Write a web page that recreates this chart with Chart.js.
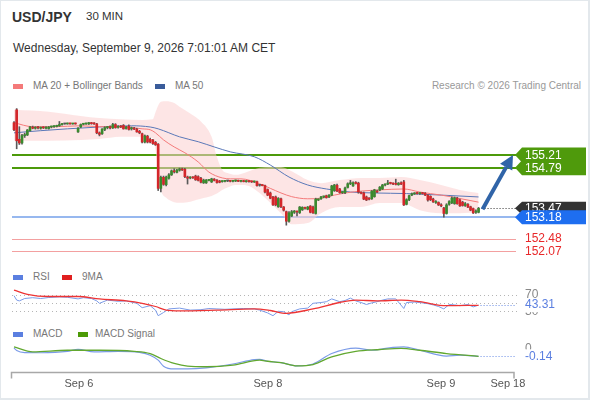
<!DOCTYPE html>
<html>
<head>
<meta charset="utf-8">
<script src="https://cdn.jsdelivr.net/npm/chart.js@4.4.1/dist/chart.umd.min.js"></script>
<style>
  body { margin: 0; background: #fff; }
  #wrap { position: relative; width: 590px; height: 400px; overflow: hidden; background: #fff;
          font-family: "Liberation Sans", Arial, sans-serif; }
  #wrap canvas { position: absolute; left: 0; }
  .t { position: absolute; white-space: nowrap; line-height: 1; }
  .sw { position: absolute; width: 10px; height: 5px; }
  .frame { position: absolute; left: 0; top: 0; right: 0; bottom: 0; box-sizing: border-box;
           border: 1px solid #e3e8ec; border-right-width: 2px; border-bottom-width: 2px; pointer-events: none; }
</style>
</head>
<body>
<div id="wrap">
  <div class="t" style="left:12px;top:10px;font-size:14px;font-weight:bold;color:#333">USD/JPY</div>
  <div class="t" style="left:86px;top:11px;font-size:11.5px;color:#333">30 MIN</div>
  <div class="t" style="left:13px;top:42px;font-size:12px;color:#333">Wednesday, September 9, 2026 7:01:01 AM CET</div>

  <div class="sw" style="left:13px;top:84px;background:#f47a7a"></div>
  <div class="t" style="left:33px;top:81px;font-size:10px;color:#777">MA 20 + Bollinger Bands</div>
  <div class="sw" style="left:155px;top:84px;background:#3a5c9a"></div>
  <div class="t" style="left:175px;top:81px;font-size:10px;color:#777">MA 50</div>
  <div class="t" style="right:9px;top:81px;font-size:10px;color:#999">Research © 2026 Trading Central</div>

  <div class="sw" style="left:13px;top:275px;background:#5b7fe0"></div>
  <div class="t" style="left:33px;top:272px;font-size:10px;color:#777">RSI</div>
  <div class="sw" style="left:62px;top:275px;background:#e02020"></div>
  <div class="t" style="left:82px;top:272px;font-size:10px;color:#777">9MA</div>

  <div class="sw" style="left:13px;top:332px;background:#5b7fe0"></div>
  <div class="t" style="left:33px;top:329px;font-size:10px;color:#777">MACD</div>
  <div class="sw" style="left:78px;top:332px;background:#4c9a06"></div>
  <div class="t" style="left:95px;top:329px;font-size:10px;color:#777">MACD Signal</div>

  <canvas id="cPrice" width="590" height="170" style="top:95px"></canvas>
  <canvas id="cRsi" width="590" height="46" style="top:280px"></canvas>
  <canvas id="cMacd" width="590" height="62" style="top:336px"></canvas>
  <div class="frame"></div>
</div>
<script>
// 30 min candles, USD/JPY
const opens = [
  156.26,156.68,155.72,155.60,155.84,155.86,156.00,156.10,156.08,156.10,
  156.08,156.10,156.08,156.07,156.12,156.13,156.14,156.16,156.20,156.22,
  156.22,156.23,156.22,156.23,155.96,156.12,156.21,156.22,156.22,156.25,
  156.24,156.22,155.93,155.90,156.04,156.10,156.13,156.09,156.20,156.11,
  156.14,156.17,156.07,156.15,156.06,156.08,156.05,155.98,155.90,155.63,
  155.82,155.72,155.70,155.62,155.56,154.12,154.48,154.24,154.45,154.56,
  154.68,154.64,154.71,154.75,154.74,154.49,154.46,154.48,154.52,154.50,
  154.45,154.30,154.30,154.38,154.33,154.42,154.39,154.36,154.34,154.35,
  154.36,154.36,154.35,154.36,154.37,154.35,154.36,154.34,154.35,154.34,
  154.33,154.34,154.22,154.22,154.21,154.08,153.97,153.84,153.84,153.52,
  153.78,153.51,153.36,153.05,153.22,153.34,153.36,153.33,153.42,153.48,
  153.44,153.54,153.51,153.30,153.74,153.78,153.84,153.88,153.84,153.90,
  154.05,154.22,154.10,153.98,153.98,154.15,154.27,154.20,154.30,154.29,
  153.98,153.97,153.84,153.78,153.78,153.85,154.02,154.06,154.10,154.23,
  154.26,154.29,154.27,154.26,154.24,154.30,154.33,153.60,153.75,153.90,
  153.94,153.96,153.95,153.96,153.96,153.90,153.86,153.77,153.66,153.66,
  153.56,153.48,153.30,153.60,153.65,153.62,153.80,153.74,153.67,153.56,
  153.60,153.52,153.46,153.34,153.34
];
const highs = [
  156.30,156.72,156.13,155.88,155.92,156.04,156.14,156.15,156.13,156.14,
  156.12,156.13,156.13,156.14,156.15,156.17,156.18,156.30,156.24,156.24,
  156.25,156.25,156.24,156.25,156.10,156.22,156.24,156.25,156.27,156.27,
  156.26,156.24,155.96,156.07,156.13,156.14,156.16,156.24,156.23,156.17,
  156.17,156.20,156.14,156.19,156.12,156.11,156.08,156.01,155.92,155.86,
  155.85,155.76,155.72,155.65,155.58,154.52,154.52,154.52,154.60,154.72,
  154.76,154.74,154.78,154.78,154.77,154.52,154.50,154.50,154.55,154.53,
  154.48,154.42,154.41,154.41,154.45,154.44,154.41,154.38,154.37,154.38,
  154.38,154.38,154.37,154.39,154.39,154.37,154.38,154.37,154.37,154.36,
  154.36,154.36,154.25,154.24,154.23,154.10,154.00,153.86,153.87,153.82,
  153.80,153.53,153.38,153.36,153.40,153.40,153.38,153.53,153.52,153.51,
  153.53,153.56,153.54,153.80,153.78,153.86,153.87,153.90,153.92,154.22,
  154.25,154.26,154.12,154.02,154.16,154.30,154.38,154.33,154.34,154.32,
  154.01,154.00,153.87,153.82,154.05,154.09,154.06,154.18,154.25,154.27,
  154.38,154.32,154.30,154.42,154.31,154.33,154.38,153.78,153.90,153.97,
  153.98,153.99,153.98,153.99,153.98,153.92,153.88,153.80,153.72,153.68,
  153.62,153.50,153.62,153.72,153.84,153.84,153.83,153.77,153.70,153.66,
  153.62,153.54,153.48,153.42,153.50
];
const lows = [
  156.00,155.41,155.55,155.56,155.78,155.84,155.98,156.06,156.05,156.06,
  156.05,156.07,156.06,156.05,156.09,156.11,156.12,156.14,156.18,156.21,
  156.21,156.21,156.21,156.21,155.94,156.10,156.19,156.20,156.20,156.21,
  156.20,155.90,155.83,155.88,156.00,156.06,156.06,156.07,156.08,156.08,
  156.10,156.05,156.05,156.02,156.02,156.03,155.95,155.90,155.60,155.60,
  155.60,155.60,155.55,155.52,154.05,154.00,154.22,154.20,154.42,154.54,
  154.62,154.62,154.68,154.70,154.47,154.26,154.43,154.44,154.38,154.36,
  154.30,154.28,154.28,154.36,154.31,154.36,154.29,154.30,154.32,154.33,
  154.34,154.33,154.33,154.34,154.34,154.33,154.33,154.32,154.32,154.31,
  154.31,154.19,154.19,154.20,153.97,153.88,153.78,153.56,153.55,153.50,
  153.49,153.38,152.92,153.02,153.20,153.30,153.22,153.30,153.40,153.44,
  153.42,153.32,153.30,153.28,153.72,153.76,153.81,153.80,153.82,153.88,
  154.02,154.01,153.96,153.95,153.95,154.13,154.24,154.18,154.26,153.96,
  153.94,153.75,153.72,153.74,153.76,153.83,153.98,154.04,154.08,154.20,
  154.24,154.26,154.24,154.23,154.22,154.24,153.56,153.58,153.72,153.88,
  153.92,153.93,153.92,153.93,153.88,153.70,153.72,153.66,153.63,153.56,
  153.52,153.18,153.28,153.57,153.62,153.60,153.60,153.53,153.54,153.53,
  153.49,153.39,153.30,153.30,153.32
];
const closes = [
  156.03,155.67,155.60,155.84,155.86,156.02,156.12,156.08,156.11,156.09,
  156.10,156.09,156.11,156.12,156.13,156.15,156.16,156.20,156.22,156.22,
  156.23,156.22,156.23,156.22,156.08,156.20,156.22,156.23,156.26,156.23,
  156.22,155.93,155.88,156.05,156.10,156.12,156.09,156.20,156.10,156.14,
  156.12,156.06,156.12,156.04,156.08,156.05,155.96,155.93,155.63,155.83,
  155.63,155.63,155.58,155.54,154.12,154.48,154.25,154.49,154.56,154.69,
  154.66,154.72,154.75,154.72,154.50,154.45,154.47,154.46,154.40,154.38,
  154.32,154.39,154.39,154.39,154.43,154.38,154.31,154.32,154.35,154.36,
  154.36,154.35,154.36,154.37,154.35,154.36,154.34,154.35,154.34,154.33,
  154.34,154.21,154.22,154.21,154.00,153.90,153.80,153.58,153.58,153.79,
  153.52,153.41,153.05,153.32,153.36,153.38,153.35,153.51,153.50,153.47,
  153.51,153.34,153.32,153.77,153.76,153.84,153.85,153.82,153.90,154.20,
  154.23,154.03,153.98,154.00,154.13,154.27,154.29,154.30,154.28,154.00,
  153.96,153.77,153.74,153.77,154.03,154.07,154.00,154.16,154.23,154.24,
  154.29,154.28,154.26,154.25,154.29,154.26,153.58,153.75,153.88,153.94,
  153.96,153.95,153.96,153.95,153.90,153.74,153.75,153.68,153.69,153.58,
  153.55,153.30,153.58,153.69,153.80,153.81,153.62,153.55,153.56,153.62,
  153.51,153.41,153.32,153.38,153.47
];

// moving averages and bands (candle index -> value)
const ma20Idx = [0,7,15,25,32,40,48,51,53,56,60,64,69,73,78,81,85,92,96,100,104,110,115,120,125,130,137,146,152,160,164,174];
const ma20Vals = [156.26,156.13,156.13,156.16,156.13,156.13,156.06,156.03,155.93,155.70,155.47,155.28,154.98,154.65,154.46,154.43,154.43,154.27,154.12,153.97,153.85,153.78,153.80,153.90,153.98,154.03,154.07,154.10,154.00,153.90,153.84,153.67];
const ma50Idx = [0,10,20,32,44,51,54,62,69,75,81,90,96,103,110,117,126,135,147,160,174];
const ma50Vals = [155.93,156.00,156.06,156.12,156.16,156.12,156.06,155.80,155.64,155.47,155.31,155.15,154.88,154.49,154.23,154.10,154.00,153.97,153.95,153.90,153.84];
const bandIdx = [0,13,25,32,40,48,52,53,54,55,57,60,62,65,67,70,74,76,78,80,83,85,88,92,96,100,104,110,115,122,130,137,145,152,160,167,174];
const bandUpper = [156.68,156.62,156.48,156.41,156.37,156.35,156.37,156.60,156.82,156.94,156.96,156.90,156.78,156.62,156.50,156.30,155.80,155.14,154.72,154.62,154.56,154.59,154.68,154.79,154.82,154.82,154.68,154.39,154.29,154.39,154.46,154.46,154.49,154.39,154.23,154.07,153.97];
const bandLower = [155.67,155.67,155.70,155.73,155.80,155.80,155.75,155.37,154.56,154.07,153.81,153.67,153.65,153.67,153.71,153.78,153.87,153.95,154.07,154.15,154.23,154.23,154.20,153.97,153.65,153.31,152.95,152.99,153.31,153.51,153.51,153.64,153.64,153.41,153.31,153.31,153.35];

// target / support levels
const levelValues = [155.21, 154.79, 153.18, 152.48, 152.07];

// RSI + 9MA
const rsiIdx = [0,1,2,4,7,10,13,17,20,24,26,29,31,32,35,39,42,46,48,51,53,54,56,58,62,66,70,73,76,79,82,86,90,92,95,97,99,101,103,104,107,110,112,115,117,119,122,124,126,128,130,132,134,136,138,140,143,146,147,150,152,155,157,159,161,163,165,167,170,172,174];
const rsiVals = [67,56,54,60,62,60,62.5,64,63,59,62,60,54,48,56,53,54,48,37,42,31,17,25,34,36,31,32,35,34,33,34,35,34,31,24,17,28,27,19,27,34,36,48,50,52,59,52,55,61,54,50,45,49,52,56,59,59,35,50,51,50,47,44,40,34,45,44,42,45,39,43.31];
const rsiMaIdx = [0,5,13,24,32,42,48,53,57,62,76,90,96,102,112,122,128,136,145,152,162,174];
const rsiMaVals = [81,70.5,65,65,59,54,48,40,31,29,31,34,30,23,34,50,56,54,56,52,42,43];
const rsiLevels = [70, 50, 30];

// MACD + signal
const macdIdx = [0,1,4,10,20,24,30,39,47,51,54,56,60,65,72,82,90,92,95,100,106,112,119,128,134,142,146,152,162,167,174];
const macdVals = [0.01,-0.036,-0.073,-0.075,-0.05,-0.013,-0.06,-0.05,-0.07,-0.12,-0.21,-0.32,-0.37,-0.37,-0.35,-0.28,-0.2,-0.195,-0.23,-0.255,-0.315,-0.28,-0.09,0.01,-0.03,0.024,0.03,-0.03,-0.135,-0.12,-0.14];
const signalIdx = [0,7,20,32,45,51,55,60,65,72,82,92,95,100,106,112,119,128,137,145,152,162,174];
const signalVals = [0.03,-0.06,-0.03,-0.03,-0.05,-0.09,-0.18,-0.27,-0.32,-0.33,-0.30,-0.21,-0.23,-0.255,-0.315,-0.29,-0.15,-0.05,-0.016,0.005,-0.03,-0.09,-0.14];

// x axis labels (candle index where they sit)
const tickLabels = ['Sep 6', 'Sep 8', 'Sep 9', 'Sep 18'];
const tickAt = [24.3, 95.1, 159.9, 185];

const xMin = -0.75, xMax = 186.9;
const FONT = '"Liberation Sans", Arial, sans-serif';

function pts(xs, ys) {
    return xs.map((x, k) => ({ x: x, y: ys[k] }));
}

function drawTag(ctx, x, yc, w, h, color) {
    ctx.fillStyle = color;
    ctx.beginPath();
    ctx.moveTo(x, yc);
    ctx.lineTo(x + 7, yc - h / 2);
    ctx.lineTo(x + w, yc - h / 2);
    ctx.lineTo(x + w, yc + h / 2);
    ctx.lineTo(x + 7, yc + h / 2);
    ctx.closePath();
    ctx.fill();
}

function labelWithBg(ctx, text, x, y, color) {
    const w = ctx.measureText(text).width;
    ctx.fillStyle = '#fff';
    ctx.fillRect(x - 2, y - 7, w + 4, 14);
    ctx.fillStyle = color;
    ctx.fillText(text, x, y);
}

// lines, tags and arrow of the price panel
const priceLevels = {
    id: 'priceLevels',
    beforeDatasetsDraw(chart) {
        const ctx = chart.ctx, ys = chart.scales.y, a = chart.chartArea;
        const styles = [['#4c9a0a', 2], ['#4c9a0a', 2], ['#74a1ea', 1.5], ['#f3a0a0', 1], ['#f3a0a0', 1]];
        ctx.save();
        levelValues.forEach((v, k) => {
            let y = Math.round(ys.getPixelForValue(v));
            if (styles[k][1] === 1) y += 0.5;
            ctx.strokeStyle = styles[k][0];
            ctx.lineWidth = styles[k][1];
            ctx.beginPath();
            ctx.moveTo(a.left, y);
            ctx.lineTo(516, y);
            ctx.stroke();
        });
        ctx.restore();
    },
    afterDraw(chart) {
        const ctx = chart.ctx, xs = chart.scales.x, ys = chart.scales.y;
        const last = closes[closes.length - 1];
        const xl = xs.getPixelForValue(closes.length - 1);
        const yl = ys.getPixelForValue(last);
        ctx.save();
        // dotted last price
        ctx.strokeStyle = '#333';
        ctx.lineWidth = 1;
        ctx.setLineDash([1, 2]);
        ctx.beginPath();
        ctx.moveTo(xl + 3, Math.round(yl) + 0.5);
        ctx.lineTo(516, Math.round(yl) + 0.5);
        ctx.stroke();
        ctx.setLineDash([]);

        // arrow towards first target
        const x0 = xl + 4, y0 = yl + 1;
        const x1 = 513, y1 = ys.getPixelForValue(levelValues[0]);
        const ang = Math.atan2(y1 - y0, x1 - x0);
        const head = 14, half = 7;
        const bx = x1 - head * Math.cos(ang), by = y1 - head * Math.sin(ang);
        ctx.strokeStyle = '#3064a8';
        ctx.lineWidth = 4;
        ctx.beginPath();
        ctx.moveTo(x0, y0);
        ctx.lineTo(bx, by);
        ctx.stroke();
        ctx.fillStyle = '#3064a8';
        ctx.beginPath();
        ctx.moveTo(x1, y1);
        ctx.lineTo(bx + half * Math.sin(ang), by - half * Math.cos(ang));
        ctx.lineTo(bx - half * Math.sin(ang), by + half * Math.cos(ang));
        ctx.closePath();
        ctx.fill();

        // tags
        ctx.font = '12px ' + FONT;
        ctx.textBaseline = 'middle';
        const yT1 = ys.getPixelForValue(levelValues[0]);
        const yT2 = ys.getPixelForValue(levelValues[1]);
        drawTag(ctx, 515, yT1, 71, 15, '#4f9a0c');
        drawTag(ctx, 515, yT2, 71, 15, '#4f9a0c');
        ctx.fillStyle = '#fff';
        ctx.fillText(levelValues[0].toFixed(2), 525, yT1 + 0.5);
        ctx.fillText(levelValues[1].toFixed(2), 525, yT2 + 0.5);

        drawTag(ctx, 515, yl, 71, 13, '#333');
        ctx.fillStyle = '#fff';
        ctx.fillText(last.toFixed(2), 525, yl + 0.5);

        const yS = ys.getPixelForValue(levelValues[2]);
        drawTag(ctx, 515, yS, 71, 14, '#1e6ef0');
        ctx.fillStyle = '#fff';
        ctx.fillText(levelValues[2].toFixed(2), 525, yS + 0.5);

        ctx.fillStyle = '#e8282a';
        ctx.fillText(levelValues[3].toFixed(2), 525, ys.getPixelForValue(levelValues[3]) + 0.5);
        ctx.fillText(levelValues[4].toFixed(2), 525, ys.getPixelForValue(levelValues[4]) + 0.5);
        ctx.restore();
    }
};

const rsiExtras = {
    id: 'rsiExtras',
    beforeDatasetsDraw(chart) {
        const ctx = chart.ctx, ys = chart.scales.y, a = chart.chartArea;
        ctx.save();
        ctx.strokeStyle = '#b5b5b5';
        ctx.lineWidth = 1;
        ctx.setLineDash([1, 3]);
        rsiLevels.forEach(v => {
            const y = Math.round(ys.getPixelForValue(v)) + 0.5;
            ctx.beginPath();
            ctx.moveTo(a.left, y);
            ctx.lineTo(517, y);
            ctx.stroke();
        });
        ctx.restore();
    },
    afterDraw(chart) {
        const ctx = chart.ctx, xs = chart.scales.x, ys = chart.scales.y;
        const n = rsiIdx.length - 1;
        const xl = xs.getPixelForValue(rsiIdx[n]);
        const yl = ys.getPixelForValue(rsiVals[n]);
        ctx.save();
        ctx.strokeStyle = '#6a8de6';
        ctx.lineWidth = 1;
        ctx.setLineDash([1, 2]);
        ctx.beginPath();
        ctx.moveTo(xl + 2, Math.round(yl) + 0.5);
        ctx.lineTo(516, Math.round(yl) + 0.5);
        ctx.stroke();
        ctx.setLineDash([]);
        ctx.font = '12px ' + FONT;
        ctx.textBaseline = 'middle';
        ctx.fillStyle = '#888';
        ctx.fillText(String(rsiLevels[0]), 525, ys.getPixelForValue(rsiLevels[0]));
        ctx.fillText(String(rsiLevels[2]), 525, ys.getPixelForValue(rsiLevels[2]) + 1);
        labelWithBg(ctx, rsiVals[n].toFixed(2), 525, yl, '#5b7fe0');
        ctx.restore();
    }
};

const macdExtras = {
    id: 'macdExtras',
    afterDraw(chart) {
        const ctx = chart.ctx, xs = chart.scales.x, ys = chart.scales.y, a = chart.chartArea;
        const n = macdIdx.length - 1;
        const xl = xs.getPixelForValue(macdIdx[n]);
        const yl = ys.getPixelForValue(macdVals[n]);
        ctx.save();
        ctx.strokeStyle = '#6a8de6';
        ctx.lineWidth = 1;
        ctx.setLineDash([1, 2]);
        ctx.beginPath();
        ctx.moveTo(xl + 2, Math.round(yl) + 0.5);
        ctx.lineTo(516, Math.round(yl) + 0.5);
        ctx.stroke();
        ctx.setLineDash([]);
        ctx.font = '12px ' + FONT;
        ctx.textBaseline = 'middle';
        ctx.fillStyle = '#888';
        ctx.fillText('0', 525, ys.getPixelForValue(0));
        labelWithBg(ctx, macdVals[n].toFixed(2), 525, yl, '#5b7fe0');

        // time axis
        const yA = Math.round(a.bottom) + 1.5;
        const xL = xs.getPixelForValue(xMin) - 0.5, xR = xs.getPixelForValue(xMax) + 1;
        ctx.strokeStyle = '#a8a8a8';
        ctx.lineWidth = 1.5;
        ctx.beginPath();
        ctx.moveTo(xL, yA + 6);
        ctx.lineTo(xL, yA);
        ctx.lineTo(xR, yA);
        ctx.lineTo(xR, yA + 6);
        ctx.stroke();
        ctx.font = '11px ' + FONT;
        ctx.fillStyle = '#555';
        ctx.textAlign = 'center';
        tickLabels.forEach((t, k) => {
            ctx.fillText(t, xs.getPixelForValue(tickAt[k]), yA + 11.5);
        });
        ctx.restore();
    }
};

const baseOpts = (yMin, yMax, pad) => ({
    responsive: false,
    animation: false,
    events: [],
    layout: { padding: pad },
    plugins: { legend: { display: false }, tooltip: { enabled: false } },
    scales: {
        x: { type: 'linear', min: xMin, max: xMax, display: false, offset: false },
        y: { type: 'linear', min: yMin, max: yMax, display: false }
    }
});

// price panel
const bodyColors = closes.map((c, i) => c > opens[i] ? '#3a8a2e' : (c < opens[i] ? '#d4262a' : '#555'));

new Chart(document.getElementById('cPrice'), {
    type: 'bar',
    data: {
        datasets: [
            {
                type: 'bar', label: 'body', order: 0, grouped: false,
                data: closes.map((c, i) => ({ x: i, y: [opens[i], c] })),
                backgroundColor: bodyColors, barThickness: 2, minBarLength: 1
            },
            {
                type: 'bar', label: 'wick', order: 1, grouped: false,
                data: closes.map((c, i) => ({ x: i, y: [lows[i], highs[i]] })),
                backgroundColor: '#5a5a5a', barThickness: 1
            },
            {
                type: 'line', label: 'MA 20', order: 2,
                data: pts(ma20Idx, ma20Vals),
                borderColor: '#f47a7a', borderWidth: 1, pointRadius: 0,
                cubicInterpolationMode: 'monotone', fill: false
            },
            {
                type: 'line', label: 'MA 50', order: 3,
                data: pts(ma50Idx, ma50Vals),
                borderColor: '#5a78b8', borderWidth: 1, pointRadius: 0,
                cubicInterpolationMode: 'monotone', fill: false
            },
            {
                type: 'line', label: 'upper', order: 4,
                data: pts(bandIdx, bandUpper),
                borderWidth: 0, borderColor: 'rgba(0,0,0,0)', pointRadius: 0,
                cubicInterpolationMode: 'monotone',
                fill: '+1', backgroundColor: 'rgba(252,208,208,0.55)'
            },
            {
                type: 'line', label: 'lower', order: 5,
                data: pts(bandIdx, bandLower),
                borderWidth: 0, borderColor: 'rgba(0,0,0,0)', pointRadius: 0,
                cubicInterpolationMode: 'monotone', fill: false
            }
        ]
    },
    options: baseOpts(151.85, 157.0, { left: 12, right: 77, top: 5, bottom: 7 }),
    plugins: [priceLevels]
});

// RSI panel
new Chart(document.getElementById('cRsi'), {
    type: 'line',
    data: {
        datasets: [
            {
                label: '9MA', order: 0,
                data: pts(rsiMaIdx, rsiMaVals),
                borderColor: '#ee3434', borderWidth: 1.3, pointRadius: 0,
                cubicInterpolationMode: 'monotone'
            },
            {
                label: 'RSI', order: 1,
                data: pts(rsiIdx, rsiVals),
                borderColor: '#7b9be8', borderWidth: 1, pointRadius: 0, tension: 0
            }
        ]
    },
    options: baseOpts(0, 100, { left: 12, right: 77, top: 2.5, bottom: 3.5 }),
    plugins: [rsiExtras]
});

// MACD panel
new Chart(document.getElementById('cMacd'), {
    type: 'line',
    data: {
        datasets: [
            {
                label: 'MACD Signal', order: 0,
                data: pts(signalIdx, signalVals),
                borderColor: '#62a830', borderWidth: 1.3, pointRadius: 0,
                cubicInterpolationMode: 'monotone'
            },
            {
                label: 'MACD', order: 1,
                data: pts(macdIdx, macdVals),
                borderColor: '#7b9be8', borderWidth: 1.2, pointRadius: 0,
                cubicInterpolationMode: 'monotone'
            }
        ]
    },
    options: baseOpts(-0.4, 0.12, { left: 12, right: 77, top: 6, bottom: 27.4 }),
    plugins: [macdExtras]
});
</script>
</body>
</html>
